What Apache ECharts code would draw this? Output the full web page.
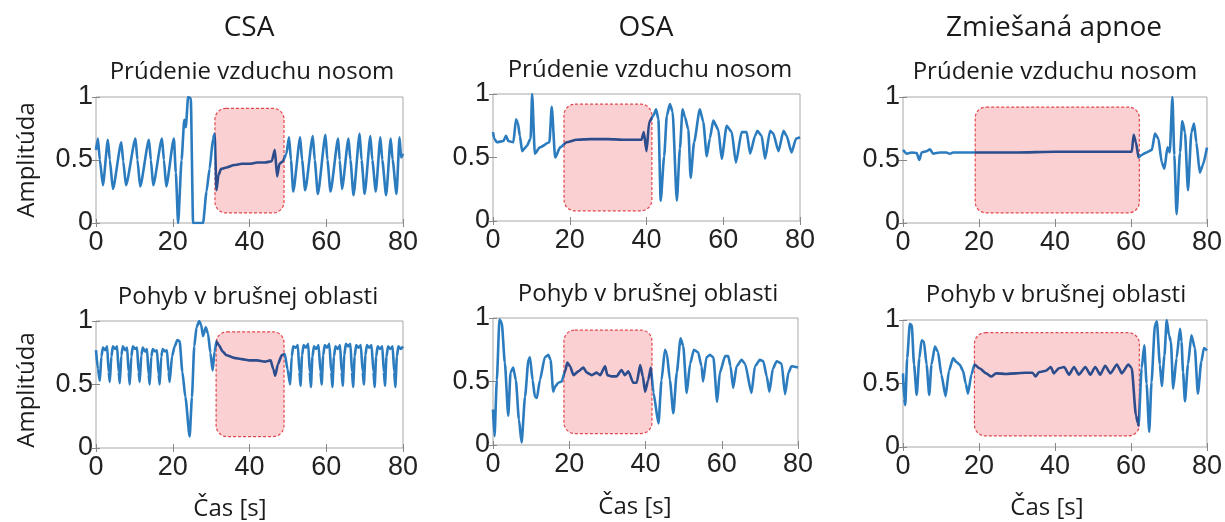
<!DOCTYPE html>
<html>
<head>
<meta charset="utf-8">
<script src="https://cdn.jsdelivr.net/npm/echarts@6/dist/echarts.min.js"></script>
<style>
html, body { margin: 0; background: #fff; }
#main { width: 1225px; height: 522px; }
</style>
</head>
<body>
<div id="main"></div>
<script>
// tick labels
var xTicks = [0, 20, 40, 60, 80];
var yTicks = [0, 0.5, 1];

var columnTitles = ['CSA', 'OSA', 'Zmiešaná apnoe'];
var rowTitles = ['Prúdenie vzduchu nosom', 'Pohyb v brušnej oblasti'];

// [x0, x1, y0, y1] apnea window for each panel
var csaFlowSpan = [31, 49, 0.08, 0.91];
var osaFlowSpan = [18.5, 41.4, 0.08, 0.92];
var mixFlowSpan = [19, 62.2, 0.08, 0.92];
var csaAbdSpan = [31.3, 49, 0.09, 0.915];
var osaAbdSpan = [18.6, 41.7, 0.09, 0.905];
var mixAbdSpan = [18.8, 62.2, 0.087, 0.9];

// signals: [time s, amplitude]
var csaFlow = [[0,0.58],[0.5,0.67],[1.0,0.5],[1.8,0.3],[3.1,0.66],[3.6,0.5],[4.4,0.27],[6.6,0.64],[7.1,0.49],[7.8,0.3],
  [10.3,0.67],[10.8,0.5],[11.5,0.29],[13.8,0.66],[14.3,0.5],[14.9,0.3],[17.2,0.67],[17.7,0.5],[18.3,0.29],
  [20.3,0.67],[20.8,0.4],[21.4,0],[22.3,0.5],[23.0,0.82],[23.4,0.76],[24.0,1.0],[24.7,0.99],[25.3,0],[27.9,0],
  [28.8,0.25],[29.6,0.43],[30.5,0.67],[30.9,0.71],[31.4,0.26],[31.9,0.38],[32.6,0.43],[34,0.44],[36,0.46],[38,0.47],
  [40,0.47],[42,0.48],[44,0.48],[45.8,0.49],[46.6,0.58],[47.2,0.37],[47.8,0.47],[48.7,0.49],[49.6,0.55],
  [50.3,0.68],[50.8,0.5],[51.4,0.25],[53.2,0.68],[53.7,0.5],[54.5,0.26],[56.5,0.69],[57.0,0.5],[57.8,0.23],
  [59.8,0.7],[60.3,0.5],[61.1,0.25],[63.1,0.67],[63.5,0.5],[64.1,0.27],[65.8,0.67],[66.3,0.5],[67.1,0.22],
  [68.7,0.71],[69.2,0.5],[70.0,0.23],[71.5,0.69],[72.0,0.5],[72.9,0.25],[74.1,0.68],[74.6,0.5],[75.6,0.22],
  [76.8,0.67],[77.3,0.5],[78.3,0.23],[79.1,0.68],[79.5,0.52],[80,0.55]];

var osaFlow = [[0,0.70],[0.3,0.65],[1.0,0.62],[2.7,0.63],[3.4,0.67],[4.0,0.63],[5.3,0.62],[6.0,0.80],[6.5,0.77],
  [7.0,0.67],[7.6,0.55],[8.8,0.59],[9.8,0.65],[10.2,1.0],[10.9,0.53],[12.2,0.58],[14.7,0.62],[15.3,0.9],[16.2,0.5],
  [17.5,0.58],[19.2,0.62],[21.8,0.64],[25.3,0.645],[30,0.645],[34,0.64],[38.7,0.64],[39.3,0.70],[40.0,0.55],
  [40.7,0.78],[41.8,0.83],[42.5,0.88],[43.1,0.8],[43.7,0.16],[44.6,0.51],[45.3,0.83],[46.1,0.92],[46.8,0.86],
  [47.9,0.16],[48.7,0.57],[49.4,0.88],[50.0,0.82],[50.9,0.72],[51.5,0.34],[52.4,0.62],[53.9,0.88],[54.8,0.78],
  [55.7,0.51],[56.5,0.65],[57.4,0.79],[58.7,0.72],[59.6,0.49],[60.9,0.75],[62.2,0.7],[63.3,0.46],[64.8,0.70],
  [66.1,0.70],[67.0,0.53],[68.3,0.67],[68.9,0.71],[70.0,0.67],[70.9,0.49],[72.2,0.71],[73.0,0.69],[74.4,0.55],
  [75.7,0.71],[76.5,0.67],[77.8,0.54],[79.0,0.65],[80,0.66]];

var mixFlow = [[0,0.58],[1.0,0.55],[2.3,0.56],[3.6,0.555],[4.3,0.50],[4.9,0.56],[6.2,0.57],[7.1,0.585],[7.9,0.55],
  [9.7,0.56],[11.4,0.56],[12.3,0.55],[13.2,0.56],[19.3,0.56],[30,0.56],[40,0.565],[50,0.565],[60.2,0.565],
  [60.7,0.70],[61.3,0.64],[62.0,0.52],[62.8,0.54],[64.1,0.56],[65.5,0.58],[66.3,0.71],[67.2,0.67],[68.1,0.48],
  [68.8,0.43],[69.6,0.60],[70.2,0.56],[70.9,1.0],[71.4,0.54],[72.0,0.07],[72.9,0.56],[73.5,0.81],[74.2,0.72],
  [75.0,0.26],[75.9,0.72],[76.6,0.79],[77.2,0.64],[78.1,0.40],[78.9,0.46],[80,0.60]];

var csaAbd = [[0,0.77],[0.5,0.62],[1.0,0.53],[1.4,0.72],[1.8,0.79],[2.4,0.77],[2.9,0.8],[3.3,0.6],
  [3.6,0.52],[4.0,0.72],[4.4,0.8],[5.0,0.78],[5.5,0.8],[5.9,0.6],[6.2,0.51],[6.6,0.73],[7.0,0.8],[7.6,0.77],[8.1,0.79],[8.5,0.6],
  [8.8,0.5],[9.2,0.72],[9.6,0.8],[10.2,0.78],[10.7,0.79],[11.1,0.6],[11.4,0.52],[11.8,0.73],[12.2,0.79],[12.8,0.76],[13.3,0.78],[13.7,0.58],
  [14.0,0.5],[14.4,0.72],[14.8,0.78],[15.4,0.76],[15.9,0.77],[16.3,0.58],[16.6,0.5],[17.0,0.72],[17.4,0.78],[18.0,0.76],[18.5,0.77],[18.9,0.6],
  [19.2,0.52],[19.8,0.72],[20.5,0.8],[21.2,0.85],[21.8,0.84],[22.5,0.6],[23.3,0.4],[24.4,0.09],[25.0,0.4],[25.6,0.8],
  [26.2,0.95],[26.9,1.0],[27.4,0.97],[27.9,0.88],[28.6,0.95],[29.2,0.9],[29.8,0.75],[30.4,0.61],[30.9,0.76],[31.4,0.84],
  [32.0,0.81],[33.0,0.76],[34.0,0.73],[36,0.71],[38,0.70],[40,0.69],[42,0.69],[44,0.68],[45.5,0.69],[46.2,0.62],[46.7,0.57],
  [47.4,0.66],[48.4,0.73],[49.2,0.74],[49.9,0.62],[50.6,0.5],[51.0,0.72],[51.4,0.8],[52.0,0.79],[52.6,0.81],[53.0,0.6],
  [53.3,0.49],[53.7,0.73],[54.1,0.81],[54.7,0.79],[55.3,0.82],[55.7,0.6],[56.0,0.48],[56.4,0.72],[56.8,0.8],[57.4,0.78],[58.0,0.81],[58.5,0.6],
  [58.8,0.5],[59.2,0.73],[59.6,0.81],[60.2,0.79],[60.8,0.82],[61.3,0.6],[61.6,0.48],[62.0,0.72],[62.4,0.8],[63.0,0.78],[63.6,0.81],[64.0,0.6],
  [64.3,0.49],[64.7,0.73],[65.1,0.82],[65.7,0.8],[66.3,0.82],[66.7,0.6],[67.0,0.48],[67.4,0.72],[67.8,0.81],[68.4,0.79],[69.0,0.81],[69.5,0.6],
  [69.8,0.5],[70.2,0.73],[70.6,0.81],[71.2,0.79],[71.8,0.81],[72.3,0.6],[72.6,0.48],[73.0,0.72],[73.4,0.8],[74.0,0.78],[74.6,0.8],[75.0,0.6],
  [75.3,0.49],[75.7,0.72],[76.1,0.8],[76.7,0.78],[77.3,0.8],[77.7,0.6],[78.0,0.48],[78.4,0.72],[78.8,0.8],[79.4,0.78],[80,0.8]];

var osaAbd = [[0,0.28],[0.4,0.07],[1.0,0.51],[1.7,0.99],[2.3,0.96],[3.1,0.65],[4.0,0.23],[4.6,0.57],[5.3,0.61],[6.0,0.51],
  [6.8,0.2],[7.5,0.02],[8.4,0.38],[9.3,0.67],[9.7,0.69],[10.4,0.51],[11.0,0.38],[11.5,0.37],[12.3,0.51],[13.6,0.69],
  [14.5,0.71],[15.1,0.67],[15.8,0.42],[16.3,0.46],[17.1,0.49],[18.0,0.50],[18.9,0.58],[19.5,0.65],[20.2,0.62],[21.1,0.55],
  [22.4,0.58],[23.7,0.61],[24.6,0.57],[25.9,0.55],[27.2,0.57],[28.1,0.55],[29.4,0.62],[30.0,0.55],[31.1,0.54],[32.4,0.54],
  [33.7,0.59],[34.6,0.55],[35.5,0.58],[36.8,0.49],[37.7,0.49],[38.6,0.63],[39.3,0.54],[39.9,0.42],[40.7,0.51],[41.4,0.61],
  [42.1,0.41],[43.4,0.17],[44.2,0.51],[45.1,0.75],[45.6,0.72],[46.4,0.51],[47.3,0.25],[48.2,0.57],[49.2,0.84],[49.9,0.78],
  [50.8,0.41],[51.7,0.64],[52.7,0.75],[53.8,0.73],[54.7,0.62],[55.1,0.50],[56.0,0.69],[56.9,0.71],[57.8,0.69],[58.8,0.34],
  [59.5,0.57],[60.9,0.70],[61.7,0.70],[62.3,0.62],[63.0,0.45],[63.9,0.62],[65.2,0.67],[66.1,0.64],[67.8,0.41],[68.7,0.62],
  [70.0,0.67],[70.9,0.66],[71.8,0.54],[72.5,0.42],[73.4,0.60],[74.4,0.66],[75.7,0.64],[76.6,0.40],[77.5,0.57],[78.3,0.62],[80,0.61]];

var mixAbd = [[0,0.58],[0.3,0.38],[0.6,0.33],[1.1,0.70],[1.8,0.97],[2.3,0.96],[2.9,0.65],[3.6,0.41],[4.3,0.70],[4.9,0.84],
  [5.5,0.83],[6.2,0.65],[6.9,0.41],[7.5,0.65],[8.4,0.79],[9.2,0.75],[10.1,0.57],[11.2,0.40],[12.1,0.60],[13.2,0.70],
  [14.0,0.67],[14.9,0.65],[15.8,0.60],[16.5,0.50],[17.1,0.42],[18.0,0.57],[18.8,0.65],[20.1,0.62],[21.9,0.58],[23.2,0.555],
  [24.5,0.58],[27.1,0.575],[29.7,0.58],[32.3,0.585],[34.1,0.585],[34.9,0.555],[35.8,0.59],[37.6,0.60],[38.9,0.63],[39.7,0.58],
  [41.0,0.62],[42.4,0.63],[43.7,0.57],[45.0,0.63],[46.3,0.57],[48.0,0.63],[49.3,0.57],[50.6,0.63],[51.9,0.57],[53.2,0.64],
  [54.6,0.58],[56.3,0.65],[57.6,0.58],[59.3,0.65],[60.2,0.62],[61.3,0.25],[61.8,0.19],[62.0,0.17],[62.8,0.62],[63.5,0.80],
  [64.1,0.5],[64.8,0.12],[65.4,0.51],[66.3,0.96],[66.8,0.99],[67.6,0.65],[68.1,0.48],[68.8,0.72],[69.4,1.0],[70.0,0.88],
  [70.5,0.83],[71.1,0.46],[72.0,0.70],[72.9,0.93],[73.3,0.83],[73.7,0.59],[74.2,0.36],[75.0,0.65],[75.9,0.88],[76.8,0.78],
  [77.6,0.42],[78.5,0.67],[79.2,0.78],[80,0.76]];

// panel layout (pixels) and which data goes where
var panels = [
  { data: csaFlow, span: csaFlowSpan, left: 96,  top: 97,  width: 307, height: 126, title: [252, 72] },
  { data: osaFlow, span: osaFlowSpan, left: 493, top: 94,  width: 307, height: 127, title: [650, 70] },
  { data: mixFlow, span: mixFlowSpan, left: 903, top: 97,  width: 306, height: 126, title: [1055, 72] },
  { data: csaAbd,  span: csaAbdSpan,  left: 96,  top: 321, width: 307, height: 127, title: [248, 297] },
  { data: osaAbd,  span: osaAbdSpan,  left: 493, top: 318, width: 305, height: 127, title: [648, 294] },
  { data: mixAbd,  span: mixAbdSpan,  left: 903, top: 320, width: 306, height: 127, title: [1056, 295] }
];

var blue = '#2b7bbf';
var darkBlue = '#2c4c8c';
var tickFont = { fontFamily: 'Liberation Sans', fontSize: 27, color: '#222' };
var textFont = 'Open Sans';

var grids = [], xAxes = [], yAxes = [], series = [], visualMaps = [], graphics = [];

panels.forEach(function (p, i) {
  grids.push({ left: p.left, top: p.top, width: p.width, height: p.height,
    show: true, borderColor: '#a8a8a8', borderWidth: 1, backgroundColor: 'transparent' });

  var xBase = { gridIndex: i, type: 'value', min: xTicks[0], max: xTicks[xTicks.length - 1],
    interval: xTicks[1] - xTicks[0], splitLine: { show: false }, axisLine: { show: false },
    axisTick: { show: true, inside: true, length: 4, lineStyle: { color: '#888' } } };
  var yBase = { gridIndex: i, type: 'value', min: yTicks[0], max: yTicks[yTicks.length - 1],
    interval: yTicks[1] - yTicks[0], splitLine: { show: false }, axisLine: { show: false },
    axisTick: { show: true, inside: true, length: 4, lineStyle: { color: '#888' } } };

  xAxes.push(Object.assign({}, xBase, { position: 'bottom',
    axisLabel: Object.assign({ margin: 6 }, tickFont) }));
  xAxes.push(Object.assign({}, xBase, { position: 'top', axisLabel: { show: false } }));
  yAxes.push(Object.assign({}, yBase, { position: 'left',
    axisLabel: Object.assign({ margin: 3 }, tickFont) }));
  yAxes.push(Object.assign({}, yBase, { position: 'right', axisLabel: { show: false } }));

  // apnea window, rounded and dashed
  series.push({
    type: 'custom', xAxisIndex: 2 * i, yAxisIndex: 2 * i, z: 1, silent: true,
    encode: { x: [0, 1], y: [2, 3] },
    data: [p.span],
    renderItem: function (params, api) {
      var a = api.coord([api.value(0), api.value(3)]);
      var b = api.coord([api.value(1), api.value(2)]);
      return { type: 'rect', shape: { x: a[0], y: a[1], width: b[0] - a[0], height: b[1] - a[1], r: 11 },
        style: { fill: '#fbd0d2', stroke: '#e2474d', lineWidth: 1.2, lineDash: [3, 2] } };
    }
  });

  var lineIndex = series.length;
  series.push({
    type: 'line', xAxisIndex: 2 * i, yAxisIndex: 2 * i, z: 3, data: p.data,
    showSymbol: false, silent: true, smooth: 0.2, smoothMonotone: 'x',
    lineStyle: { width: 2.6 }
  });
  visualMaps.push({
    type: 'piecewise', show: false, seriesIndex: lineIndex, dimension: 0,
    pieces: [{ lt: p.span[0], color: blue }, { gte: p.span[0], lte: p.span[1], color: darkBlue },
      { gt: p.span[1], color: blue }]
  });

  graphics.push({ type: 'text', x: p.title[0], y: p.title[1],
    style: { text: rowTitles[i < 3 ? 0 : 1], font: '24px "' + textFont + '"', fill: '#1a1a1a',
      align: 'center', verticalAlign: 'middle' } });
});

// column titles
[[249, 28], [646, 28], [1054, 28]].forEach(function (c, j) {
  graphics.push({ type: 'text', x: c[0], y: c[1],
    style: { text: columnTitles[j], font: '28px "' + textFont + '"', fill: '#1a1a1a',
      align: 'center', verticalAlign: 'middle' } });
});

// axis names
[[230, 509], [635, 507], [1047, 508]].forEach(function (c) {
  graphics.push({ type: 'text', x: c[0], y: c[1],
    style: { text: 'Čas [s]', font: '24px "' + textFont + '"', fill: '#1a1a1a',
      align: 'center', verticalAlign: 'middle' } });
});
[[27, 160], [27, 390]].forEach(function (c) {
  graphics.push({ type: 'text', x: c[0], y: c[1], rotation: Math.PI / 2,
    style: { text: 'Amplitúda', font: '24px "' + textFont + '"', fill: '#1a1a1a',
      align: 'center', verticalAlign: 'middle' } });
});

var chart = echarts.init(document.getElementById('main'));
chart.setOption({
  animation: false,
  backgroundColor: '#fff',
  grid: grids,
  xAxis: xAxes,
  yAxis: yAxes,
  visualMap: visualMaps,
  series: series,
  graphic: graphics
});
</script>
</body>
</html>
